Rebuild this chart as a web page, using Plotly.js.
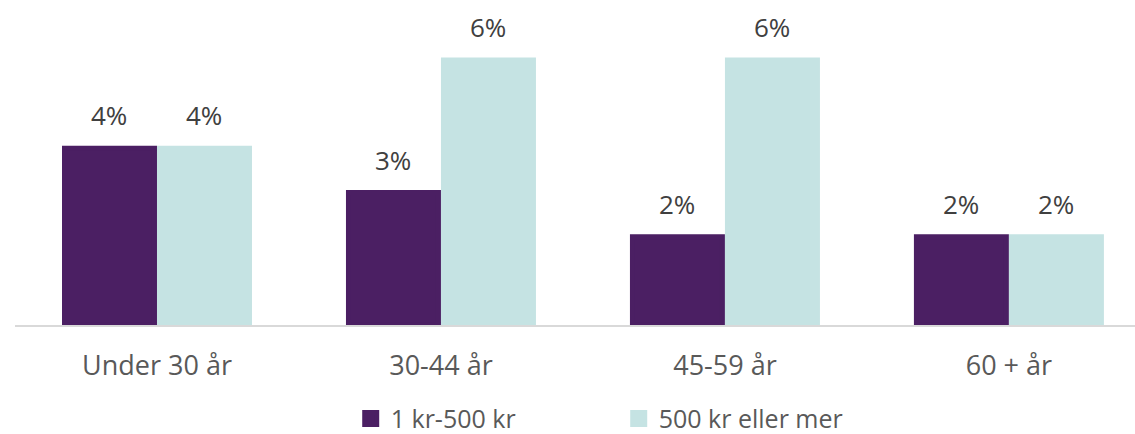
<!DOCTYPE html>
<html>
<head>
<meta charset="utf-8">
<script src="https://cdn.plot.ly/plotly-3.0.1.min.js"></script>
<style>html,body{margin:0;padding:0;background:#fff;}#chart{width:1135px;height:434px;}</style>
</head>
<body>
<div id="chart"></div>
<script>
const categories = ["Under 30 år", "30-44 år", "45-59 år", "60 + år"];
const seriesNames = ["1 kr-500 kr", "500 kr eller mer"];
const seriesLow = [4, 3, 2, 2];
const seriesHigh = [4, 6, 6, 2];
const colors = ["#4B1F63", "#C5E3E3"];

const FONT = "Open Sans, sans-serif";
const bargap = 0.331;
const allSeries = [seriesLow, seriesHigh];

const traces = allSeries.map((vals, i) => ({
  type: "bar",
  name: seriesNames[i],
  x: categories,
  y: vals,
  marker: {color: colors[i], line: {color: colors[i], width: 5}},
  cliponaxis: true,
  hoverinfo: "skip"
}));

const annotations = [];
allSeries.forEach((vals, i) => {
  vals.forEach((v, j) => {
    annotations.push({
      x: j + (i - 0.5) * (1 - bargap) / 2,
      y: v,
      xref: "x", yref: "y",
      text: v + "%",
      showarrow: false,
      yanchor: "bottom",
      yshift: 13,
      font: {family: FONT, size: 26, color: "#404040"}
    });
  });
});

const layout = {
  width: 1135, height: 434,
  margin: {l: 15, r: 0, t: 0, b: 109},
  paper_bgcolor: "#fff", plot_bgcolor: "#fff",
  barmode: "group",
  bargap: bargap,
  bargroupgap: 0.0526,
  showlegend: true,
  legend: {
    orientation: "h",
    xref: "container", yref: "container",
    x: 0.309, y: 0.035, xanchor: "left", yanchor: "middle",
    entrywidth: 223,
    font: {family: FONT, size: 25, color: "#595959"},
    traceorder: "normal"
  },
  xaxis: {
    type: "category",
    range: [-0.5, 3.444],
    showline: true, linecolor: "#D9D9D9", linewidth: 1.5,
    ticks: "", ticklabelstandoff: 16,
    tickfont: {family: FONT, size: 27, color: "#595959"},
    showgrid: false, zeroline: false
  },
  yaxis: {
    range: [0, 7.36],
    visible: false,
    showgrid: false, zeroline: false
  },
  annotations: annotations
};

Plotly.newPlot("chart", traces, layout, {staticPlot: true, displayModeBar: false});
</script>
</body>
</html>
